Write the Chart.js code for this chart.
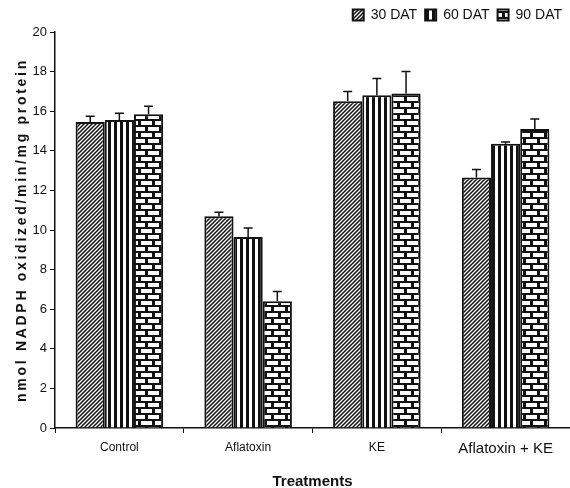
<!DOCTYPE html>
<html>
<head>
<meta charset="utf-8">
<script src="https://cdn.jsdelivr.net/npm/chart.js@4"></script>
<style>
  html, body { margin: 0; padding: 0; background: #fff; }
  #wrap { width: 570px; height: 488px; position: relative; }
</style>
</head>
<body>
<div id="wrap"><canvas id="chart"></canvas></div>
<script>
const categories = ['Control', 'Aflatoxin', 'KE', 'Aflatoxin + KE'];
const seriesNames = ['30 DAT', '60 DAT', '90 DAT'];
const dat30 = [15.45, 10.7, 16.5, 12.65];
const dat60 = [15.55, 9.65, 16.8, 14.35];
const dat90 = [15.85, 6.4, 16.9, 15.1];
const err30 = [0.3, 0.2, 0.5, 0.4];
const err60 = [0.35, 0.45, 0.85, 0.1];
const err90 = [0.4, 0.5, 1.1, 0.5];
const yMin = 0, yMax = 20, yStep = 2;

const FONT = "'Liberation Sans Narrow', 'Liberation Sans', Arial, sans-serif";

// fill patterns
function makeTile(w, h, draw) {
  const c = document.createElement('canvas');
  c.width = w; c.height = h;
  const g = c.getContext('2d');
  draw(g, w, h);
  return document.createElement('canvas').getContext('2d').createPattern(c, 'repeat');
}

const hatch = makeTile(4, 4, (g, w, h) => {
  g.fillStyle = '#fff'; g.fillRect(0, 0, w, h);
  g.strokeStyle = '#111'; g.lineWidth = 1.5;
  g.beginPath();
  g.moveTo(-1, h + 1); g.lineTo(w + 1, -1);
  g.moveTo(-1, 1); g.lineTo(1, -1);
  g.moveTo(w - 1, h + 1); g.lineTo(w + 1, h - 1);
  g.stroke();
});

const stripes = makeTile(6, 4, (g, w, h) => {
  g.fillStyle = '#fff'; g.fillRect(0, 0, w, h);
  g.fillStyle = '#111'; g.fillRect(0, 0, 3, h);
});

const bricks = makeTile(14, 12, (g, w, h) => {
  g.fillStyle = '#111'; g.fillRect(0, 0, w, h);
  g.fillStyle = '#fff';
  g.fillRect(1, 1, 11, 4);
  g.fillRect(0, 7, 5, 4);
  g.fillRect(8, 7, 6, 4);
});

const fills = [hatch, stripes, bricks];
const values = [dat30, dat60, dat90];
const errors = [err30, err60, err90];

const errorBars = {
  id: 'errorBars',
  afterDatasetsDraw(chart) {
    const ctx = chart.ctx;
    const y = chart.scales.y;
    ctx.save();
    ctx.strokeStyle = '#111';
    ctx.lineWidth = 1.5;
    chart.data.datasets.forEach((ds, di) => {
      chart.getDatasetMeta(di).data.forEach((bar, i) => {
        const top = y.getPixelForValue(ds.data[i] + errors[di][i]);
        ctx.beginPath();
        ctx.moveTo(bar.x, bar.y);
        ctx.lineTo(bar.x, top);
        ctx.moveTo(bar.x - 4.5, top);
        ctx.lineTo(bar.x + 4.5, top);
        ctx.stroke();
      });
    });
    ctx.restore();
  }
};

const yTitle = {
  id: 'yTitle',
  afterDraw(chart) {
    const ctx = chart.ctx;
    const a = chart.chartArea;
    ctx.save();
    ctx.translate(22, (a.top + a.bottom) / 2);
    ctx.rotate(-Math.PI / 2);
    ctx.font = "bold 14px " + FONT;
    ctx.letterSpacing = '2.7px';
    ctx.fillStyle = '#111';
    ctx.textAlign = 'center';
    ctx.textBaseline = 'middle';
    ctx.fillText('nmol NADPH oxidized/min/mg protein', 0, 0);
    ctx.restore();
  }
};

new Chart(document.getElementById('chart'), {
  type: 'bar',
  data: {
    labels: categories,
    datasets: seriesNames.map((name, i) => ({
      label: name,
      data: values[i],
      backgroundColor: fills[i],
      borderColor: '#111',
      borderWidth: 2,
      categoryPercentage: 0.68,
      barPercentage: 1.0
    }))
  },
  options: {
    responsive: true,
    maintainAspectRatio: false,
    animation: false,
    layout: { padding: { left: 0, right: 0, top: 0, bottom: 0 } },
    plugins: {
      tooltip: { enabled: false },
      legend: {
        position: 'top',
        align: 'end',
        labels: {
          color: '#111',
          font: { family: FONT, size: 14 },
          boxWidth: 11,
          boxHeight: 11,
          padding: 8
        }
      }
    },
    scales: {
      x: {
        afterFit: s => { s.height = 60; },
        grid: { display: true, offset: true, drawOnChartArea: false, tickLength: 5, color: '#111' },
        border: { color: '#111', width: 1.5 },
        ticks: {
          color: '#111',
          padding: 7,
          font: c => ({ family: FONT, size: c.index === 3 ? 15 : 12 })
        },
        title: {
          display: true,
          text: 'Treatments',
          color: '#111',
          font: { family: FONT, size: 15, weight: 'bold' },
          padding: { top: 10, bottom: -3 }
        }
      },
      y: {
        min: yMin,
        max: yMax,
        afterFit: s => { s.width = 55; },
        grid: { display: true, drawOnChartArea: false, tickLength: 5, color: '#111' },
        border: { color: '#111', width: 1.5 },
        ticks: {
          stepSize: yStep,
          color: '#111',
          padding: 3,
          font: { family: FONT, size: 13 }
        }
      }
    }
  },
  plugins: [errorBars, yTitle]
});
</script>
</body>
</html>
